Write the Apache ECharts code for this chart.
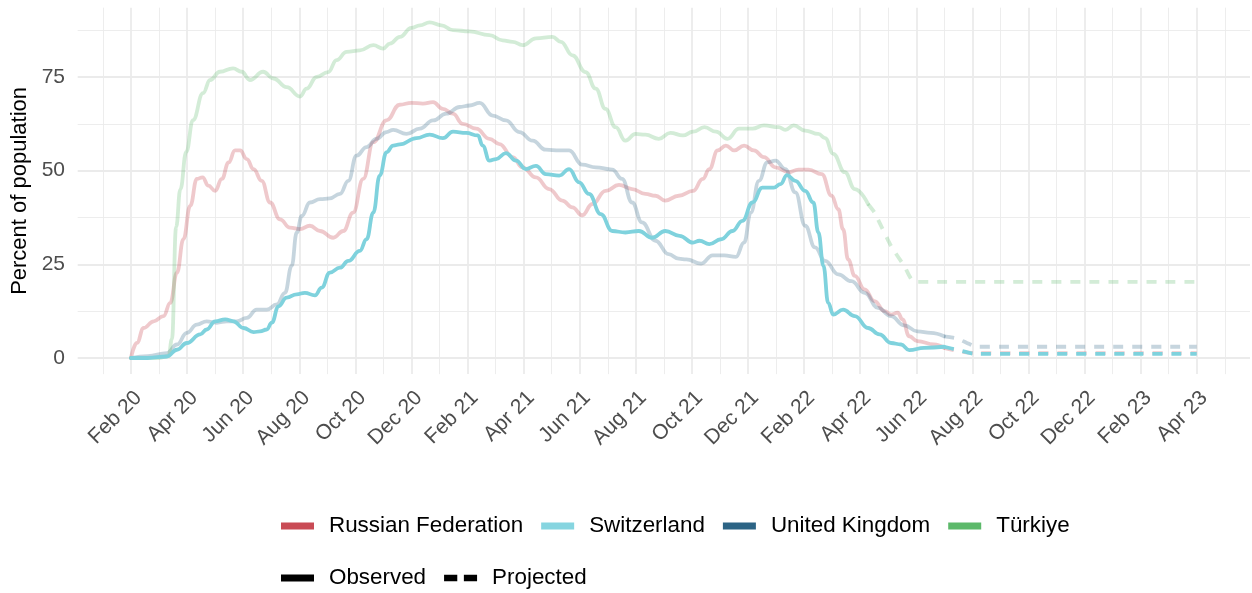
<!DOCTYPE html>
<html>
<head>
<meta charset="utf-8">
<script src="https://cdn.jsdelivr.net/npm/echarts@6/dist/echarts.min.js"></script>
<style>
html,body{margin:0;padding:0;background:#ffffff;}
#chart{width:1252px;height:593px;}
</style>
</head>
<body>
<div id="chart"></div>
<script>
// ---- Data (x = months since Feb 2020) ----
const xTickLabels = ['Feb 20','Apr 20','Jun 20','Aug 20','Oct 20','Dec 20','Feb 21','Apr 21','Jun 21','Aug 21','Oct 21','Dec 21','Feb 22','Apr 22','Jun 22','Aug 22','Oct 22','Dec 22','Feb 23','Apr 23'];
const yTickValues = [0, 25, 50, 75];
const yMinorValues = [12.5, 37.5, 62.5, 87.5];

const countryNames = ['Russian Federation', 'Switzerland', 'United Kingdom', 'Türkiye'];
const countryColors = ['#c94b55', '#86d5e0', '#2c6485', '#5cb96a'];

const ruObsMonths = [0,0.21,0.45,0.81,1.16,1.40,1.64,1.87,2.11,2.35,2.55,2.76,3.0,3.24,3.48,3.71,3.89,4.13,4.37,4.66,4.96,5.31,5.67,6.03,6.38,6.74,7.21,7.57,7.92,8.28,8.64,9.11,9.58,10.0,10.41,10.77,11.12,11.48,11.83,12.31,12.78,13.14,13.61,13.96,14.44,14.91,15.38,15.74,16.09,16.45,16.92,17.40,17.87,18.34,18.70,19.05,19.53,20.04,20.39,20.62,20.92,21.21,21.51,21.86,22.21,22.57,22.98,23.45,23.80,24.16,24.63,24.98,25.22,25.39,25.57,25.81,26.16,26.51,26.87,27.10,27.34,27.51,27.75,28.04,28.63,28.99];
const ruObsValues = [0,4,8,9.8,11.2,14.7,22.8,31.7,40.6,47.8,48.2,46,44.6,47.8,52.2,55.4,55.4,53.1,50.4,47.3,41.5,37,34.8,34.4,35.3,33.9,32.1,33.9,38.8,47.8,57.6,63.4,67.6,68.1,67.9,68.3,66.5,65.2,62.5,61.2,58.5,57.1,53.6,50.9,48.2,45.1,42,40.2,38.1,41.1,44.6,46.2,45.1,43.8,43.3,42,43.3,44.6,47.8,50.4,55.4,56.7,55.4,56.7,55.4,53.6,50.9,49.6,50.3,50.3,49.1,43.3,39.7,34.4,26.3,21.9,18.3,15.2,12.5,11.6,12.1,10.3,5.8,4.5,3.6,2.7];
const ruProjMonths = [28.99, 29.5, 30.1, 38];
const ruProjValues = [2.7, 1.8, 1.3, 1.3];

const chObsMonths = [0,0.6,1.28,1.64,1.99,2.47,2.70,3.0,3.36,3.65,4.01,4.37,4.60,4.84,5.02,5.26,5.55,5.91,6.20,6.56,6.80,7.09,7.45,7.75,8.16,8.40,8.64,8.87,9.11,9.35,9.58,10.18,10.65,11.12,11.48,11.95,12.37,12.54,12.78,13.02,13.37,13.73,14.08,14.44,14.79,15.27,15.62,15.98,16.33,16.75,17.16,17.63,18.11,18.58,19.05,19.56,20.04,20.27,20.62,21.04,21.45,21.80,22.16,22.51,22.92,23.16,23.39,23.69,24.04,24.33,24.51,24.69,24.86,25.04,25.39,25.81,26.28,26.69,27.10,27.46,27.75,28.28,28.99];
const chObsValues = [0,0,0.4,2.2,4,6.3,7.6,9.8,10.3,9.8,8,6.9,7.1,7.6,9.4,13.8,16.1,17,17.4,16.7,18.8,22.8,24.1,25.9,28.6,31.7,38.8,48.7,54.9,56.7,57,58.7,59.6,58.7,60.4,60.1,59.4,56.7,52.7,53.1,54.7,52.7,50.4,51.3,49.1,48.7,50.4,46.9,43.8,38.4,33.9,33.5,33.9,32.1,33.9,32.6,30.8,31.3,30.4,31.7,33.9,36.6,41.5,45.5,45.5,46.4,48.8,47.3,44.6,41.5,33.5,24.6,14.7,11.6,12.9,11.2,8,6.3,4,3.6,2.1,2.7,3.0];
const chProjMonths = [28.99, 29.5, 30.1, 38];
const chProjValues = [3.0, 2.1, 1.1, 1.1];

const ukObsMonths = [0,0.6,1.28,1.64,1.99,2.35,2.70,3.06,3.42,3.77,4.13,4.48,4.84,5.20,5.49,5.73,5.91,6.09,6.38,6.74,7.09,7.45,7.75,8.04,8.40,8.75,9.11,9.35,9.82,10.30,10.77,11.24,11.72,12.07,12.43,12.90,13.37,13.85,14.32,14.79,15.27,15.62,16.09,16.57,17.16,17.51,17.87,18.22,18.70,19.17,19.53,19.80,20.33,20.74,21.15,21.57,21.86,22.10,22.39,22.69,22.98,23.33,23.69,24.04,24.39,24.75,25.22,25.69,26.16,26.63,27.10,27.57,28.04,28.52,28.99];
const ukObsValues = [0,0.5,1.3,3.6,6.7,8.9,9.8,9.4,9.8,9.8,10.7,12.9,12.9,14.3,17.4,24.6,33.5,37.9,41.5,42.4,42.6,43.8,47.3,54,56.3,58.5,60.3,60.9,59.8,61.2,63.4,65.2,67,67.4,68.1,64.7,63.4,60.3,58,55.6,55.4,55.4,51.6,50.9,50.3,47.8,41.5,36.2,31.3,27.7,26.5,26.3,25.2,27.4,27.4,27,30.8,38.8,47.3,52.2,52.7,50.4,44.2,35.3,29.5,25.9,22.3,20.5,17.4,13.4,11.2,8.7,7.1,6.7,5.8];
const ukProjMonths = [28.99, 29.4, 29.79, 30.14, 38];
const ukProjValues = [5.8, 5.3, 4.1, 3.0, 3.0];

const trObsMonths = [0,1.0,1.34,1.46,1.61,1.76,1.97,2.21,2.57,2.82,3.17,3.64,3.95,4.24,4.71,5.08,5.55,6.03,6.26,6.62,7.03,7.33,7.69,8.16,8.64,8.99,9.23,9.59,10.0,10.30,10.65,11.07,11.48,12.07,12.78,13.25,13.61,13.96,14.44,15.03,15.33,15.74,16.21,16.57,16.92,17.28,17.63,17.99,18.34,18.82,19.23,19.68,20.04,20.45,20.86,21.27,21.68,22.16,22.57,23.10,23.33,23.63,24.04,24.51,24.75,25.04,25.45,25.81,26.28];
const trObsValues = [0,0,0.5,5,35,45,55,63.5,70.7,74.2,76.4,77.3,76.4,74.2,76.4,74.6,72.3,69.8,71.9,75,76.3,79.5,81.7,82.1,83.5,82.6,83.9,85.7,88.1,88.8,89.6,88.8,87.5,87.2,86.2,84.8,84.4,83.5,85.3,85.7,84.4,80.8,76.3,71.9,66.5,61.6,58,59.8,59.6,58.5,60.1,59.4,60.4,61.6,60.4,58.5,61.2,61.2,62.1,61.6,60.9,62.1,60.7,59.8,58.7,54.5,49.6,45.1,41.1];
const trProjMonths = [26.28, 26.51, 27.10, 27.57, 27.95, 38];
const trProjValues = [41.1, 38.8, 29.9, 24.6, 20.3, 20.3];

// ---- Build options ----
const FONT = "'Liberation Sans', Arial, sans-serif";
const zip = (a, b) => a.map((v, i) => [v, b[i]]);
const majorX = xTickLabels.map((_, i) => i * 2);
const minorX = [-1].concat(xTickLabels.map((_, i) => i * 2 + 1));
const LW = 3.8;

const seriesDefs = [
  { name: 'Russian Federation', color: countryColors[0], opacity: 0.3, obs: zip(ruObsMonths, ruObsValues), proj: zip(ruProjMonths, ruProjValues) },
  { name: 'United Kingdom', color: countryColors[2], opacity: 0.27, obs: zip(ukObsMonths, ukObsValues), proj: zip(ukProjMonths, ukProjValues) },
  { name: 'Türkiye', color: countryColors[3], opacity: 0.27, obs: zip(trObsMonths, trObsValues), proj: zip(trProjMonths, trProjValues) },
  { name: 'Switzerland', color: '#7fd2dd', opacity: 1, obs: zip(chObsMonths, chObsValues), proj: zip(chProjMonths, chProjValues) }
];

const series = [];
seriesDefs.forEach(d => {
  series.push({
    type: 'line', name: d.name, data: d.obs, showSymbol: false, symbol: 'none',
    smooth: 0.45, smoothMonotone: 'x', xAxisIndex: 0, yAxisIndex: 0,
    itemStyle: { color: d.color },
    lineStyle: { color: d.color, width: LW, opacity: d.opacity, cap: 'round', join: 'round' },
    emphasis: { disabled: true }, silent: true
  });
  series.push({
    type: 'line', name: d.name, data: d.proj, showSymbol: false, symbol: 'none',
    smooth: 0.2, xAxisIndex: 0, yAxisIndex: 0,
    itemStyle: { color: d.color },
    lineStyle: { color: d.color, width: LW, opacity: d.opacity, type: [10, 9], cap: 'butt' },
    emphasis: { disabled: true }, silent: true
  });
});
series.push({ type: 'line', name: 'Observed', data: [], itemStyle: { color: '#000' } });
series.push({ type: 'line', name: 'Projected', data: [], itemStyle: { color: '#000' } });

const legendText = { fontSize: 22.4, color: '#000', fontFamily: FONT, padding: [0, 0, 0, 10], lineHeight: 22 };

const option = {
  animation: false,
  backgroundColor: '#ffffff',
  grid: { left: 77.7, right: 2, top: 7.7, bottom: 218.9, containLabel: false },
  xAxis: [
    {
      type: 'value', min: -1.9, max: 39.9, position: 'bottom',
      axisLine: { show: false },
      axisTick: { show: false, customValues: majorX },
      axisLabel: {
        customValues: majorX, rotate: 45, align: 'right', verticalAlign: 'top', margin: 13,
        fontSize: 21, color: '#4d4d4d', fontFamily: FONT,
        formatter: v => xTickLabels[Math.round(v / 2)]
      },
      splitLine: { show: true, lineStyle: { color: '#ebebeb', width: 1.8 } }
    },
    {
      type: 'value', min: -1.9, max: 39.9, position: 'top',
      axisLine: { show: false },
      axisTick: { show: false, customValues: minorX },
      axisLabel: { show: false },
      splitLine: { show: true, lineStyle: { color: '#ebebeb', width: 0.9 } }
    }
  ],
  yAxis: [
    {
      type: 'value', min: -4.3, max: 93.5, position: 'left',
      axisLine: { show: false },
      axisTick: { show: false, customValues: yTickValues },
      axisLabel: { customValues: yTickValues, margin: 12.7, fontSize: 21, color: '#4d4d4d', fontFamily: FONT },
      splitLine: { show: true, lineStyle: { color: '#ebebeb', width: 1.8 } },
      name: 'Percent of population', nameLocation: 'middle', nameGap: 47,
      nameTextStyle: { fontSize: 22, color: '#000', fontFamily: FONT }
    },
    {
      type: 'value', min: -4.3, max: 93.5, position: 'right',
      axisLine: { show: false },
      axisTick: { show: false, customValues: yMinorValues },
      axisLabel: { show: false },
      splitLine: { show: true, lineStyle: { color: '#ebebeb', width: 0.9 } }
    }
  ],
  legend: [
    {
      data: countryNames.map((n, i) => ({ name: n, icon: 'rect', itemStyle: { color: countryColors[i], opacity: 1, borderWidth: 0 } })),
      left: 281, top: 515, padding: 0, itemWidth: 33, itemHeight: 7, itemGap: 18,
      selectedMode: false, textStyle: legendText
    },
    {
      data: [
        { name: 'Observed', icon: 'rect', itemStyle: { color: '#000', borderWidth: 0 } },
        { name: 'Projected', icon: 'path://M0,0H12V6H0Z M18,0H30V6H18Z', itemStyle: { color: '#000', borderWidth: 0 } }
      ],
      left: 281, top: 567, padding: 0, itemWidth: 33, itemHeight: 7, itemGap: 18,
      selectedMode: false, textStyle: legendText
    }
  ],
  series: series
};

const chart = echarts.init(document.getElementById('chart'), null, { renderer: 'canvas' });
chart.setOption(option);
</script>
</body>
</html>
